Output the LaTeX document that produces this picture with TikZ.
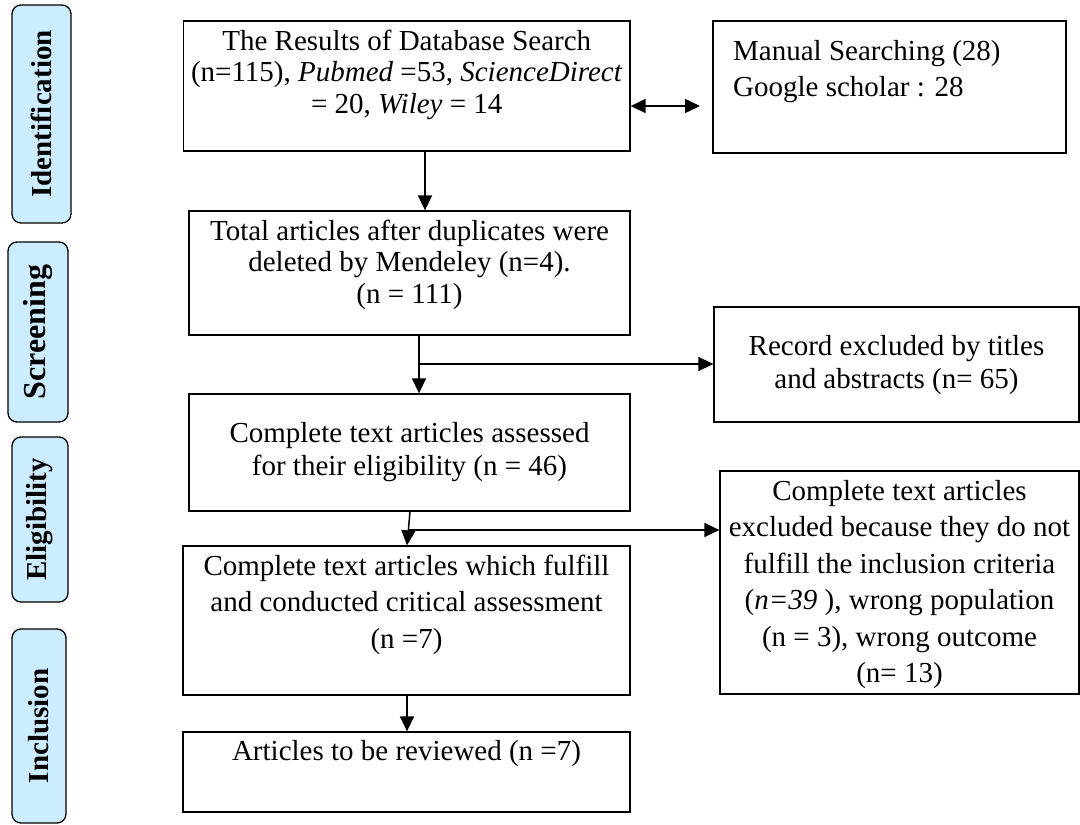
\documentclass[tikz,border=0pt]{standalone}
\usepackage{fontspec}
\setmainfont{Liberation Serif}
\usetikzlibrary{arrows.meta}
\definecolor{lblue}{HTML}{CCECFF}
\begin{document}
\begin{tikzpicture}[x=1pt,y=-1pt,
  box/.style={draw, line width=1.3pt, inner sep=0pt},
  side/.style={draw, line width=1.3pt, fill=lblue, rounded corners=9pt, inner sep=0pt, rotate=90},
  txt/.style={inner sep=0pt, anchor=base, font=\fontsize{29}{31.7}\selectfont},
  txtm/.style={inner sep=0pt, anchor=base, font=\fontsize{29}{33}\selectfont},
  txtw/.style={inner sep=0pt, anchor=base, font=\fontsize{29}{36.5}\selectfont},
  lbl/.style={font=\bfseries\fontsize{29}{30}\selectfont},
  arr/.style={line width=1.5pt, -{Triangle[length=15pt,width=14pt]}},
  darr/.style={line width=1.5pt, {Triangle[length=15pt,width=14pt]}-{Triangle[length=15pt,width=14pt]}}]
\useasboundingbox (0,0) rectangle (1080,825);

% side labels
\node[side, lbl, minimum width=218, minimum height=59] (id) at (41.5,114) {Identification};
\node[side, lbl, minimum width=180, minimum height=60, font=\bfseries\fontsize{32}{34}\selectfont] (scr) at (38,332) {Screening};
\node[side, lbl, minimum width=165, minimum height=56] (eli) at (40,519.5) {Eligibility};
\node[side, lbl, minimum width=194, minimum height=54] (inc) at (39,726) {Inclusion};

% boxes
\node[box, minimum width=446.5, minimum height=130] (b1) at (406.75,86) {};
\node[box, minimum width=353, minimum height=132] (man) at (889.5,87) {};
\node[box, minimum width=441, minimum height=124] (b2) at (409.5,273) {};
\node[box, minimum width=365, minimum height=115] (rec) at (896.5,364.5) {};
\node[box, minimum width=441, minimum height=117] (b3) at (409.5,452.5) {};
\node[box, minimum width=359, minimum height=223] (exc) at (899.5,582.5) {};
\node[box, minimum width=447, minimum height=149] (b4) at (406.5,620.5) {};
\node[box, minimum width=447, minimum height=80] (b5) at (406.5,772) {};

% texts
\node[txt] (t1) at (406.75,50) {\parbox[t]{446pt}{\centering The Results of Database Search\\(n=115), \textit{Pubmed} =53, \textit{ScienceDirect}\\= 20, \textit{Wiley} = 14}};
\node[inner sep=0pt, anchor=base west, font=\fontsize{29}{36}\selectfont] (tm) at (733,60) {\parbox[t]{320pt}{Manual Searching (28)\\Google scholar : 28}};
\node[txt] (t2) at (409.5,240) {\parbox[t]{440pt}{\centering Total articles after duplicates were\\deleted by Mendeley (n=4).\\(n = 111)}};
\node[txtm] (trec) at (896.5,355) {\parbox[t]{360pt}{\centering Record excluded by titles\\and abstracts (n= 65)}};
\node[txtm] (t3) at (409.5,442) {\parbox[t]{440pt}{\centering Complete text articles assessed\\for their eligibility (n = 46)}};
\node[txtw] (texc) at (899.5,500) {\parbox[t]{358pt}{\centering Complete text articles\\excluded because they do not\\fulfill the inclusion criteria\\(\textit{n=39} ), wrong population\\(n = 3), wrong outcome\\(n= 13)}};
\node[txtw] (t4) at (406.5,575) {\parbox[t]{446pt}{\centering Complete text articles which fulfill\\and conducted critical assessment\\(n =7)}};
\node[txt] (t5) at (406.5,760) {\parbox[t]{446pt}{\centering Articles to be reviewed (n =7)}};

% connectors
\coordinate (c1) at (425,0);
\draw[arr] (c1 |- b1.south) -- (c1 |- b2.north);
\coordinate (c2) at (700,106);
\draw[darr] (c2 -| b1.east) -- (c2);
\coordinate (c3) at (419,364);
\draw[arr] (c3 |- b2.south) -- (c3 |- b3.north);
\draw[arr] (c3) -- (c3 -| rec.west);
\coordinate (c4a) at (410,0);
\coordinate (c4b) at (407,0);
\draw[arr] (c4a |- b3.south) -- (c4b |- b4.north);
\coordinate (c5) at (408.5,530);
\draw[arr] (c5) -- (c5 -| exc.west);
\coordinate (c6) at (407,0);
\draw[arr] (c6 |- b4.south) -- (c6 |- b5.north);
\end{tikzpicture}
\end{document}
